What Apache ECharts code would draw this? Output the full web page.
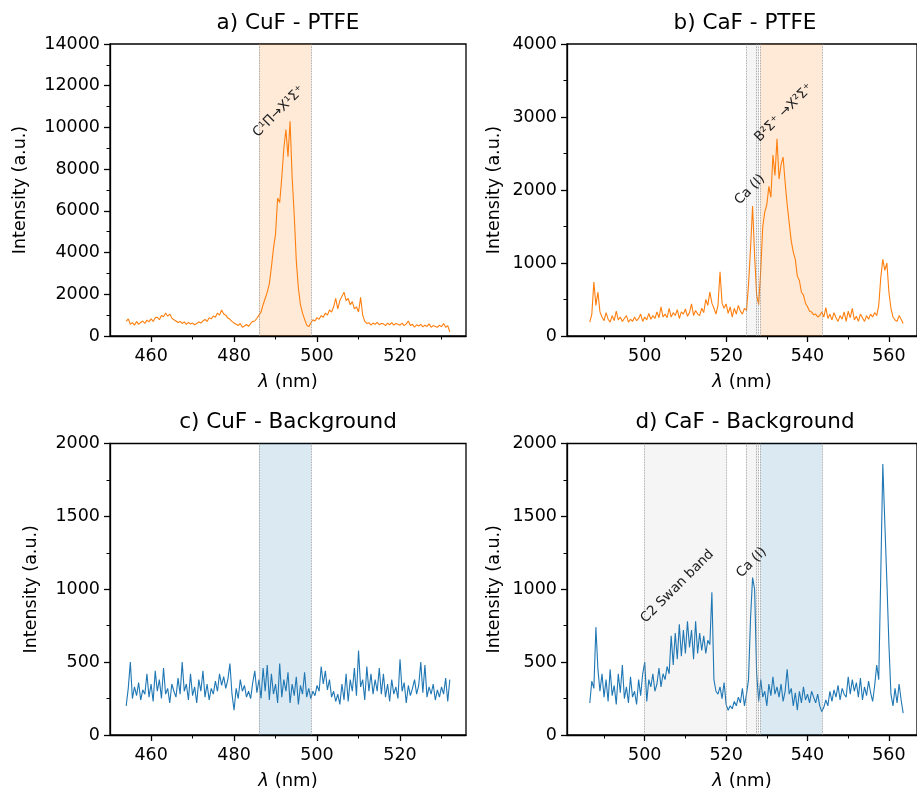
<!DOCTYPE html>
<html lang="en">
<head>
  <meta charset="UTF-8">
  <title>CuF / CaF spectra</title>
  <script src="https://cdn.jsdelivr.net/npm/echarts/dist/echarts.min.js"></script>
  <style>
    html, body { margin: 0; padding: 0; background: #fff; }
    #chart { width: 917px; height: 791px; }
  </style>
</head>
<body>
  <div id="chart"></div>
  <script>
    // wavelength grid (nm): first sample and spacing
    var STEP = 0.5;
    var cufStart = 454;
    var cafStart = 486.5;

    // a) CuF - PTFE
    var cufPtfe = [
      700, 820, 560, 640, 520, 700, 560, 650, 720, 600,
      760, 680, 820, 700, 880, 900, 780, 980, 920, 1100,
      950, 1050, 860, 780, 720, 650, 700, 600, 680, 560,
      650, 580, 620, 540, 600, 680, 620, 720, 800, 700,
      880, 820, 960, 900, 1100, 1000, 1250, 1050, 1000, 860,
      800, 700, 620, 560, 500, 600, 420, 480, 550, 460,
      600, 700, 720, 850, 1000, 1150, 1500, 1800, 2100, 2500,
      3300, 4200, 4900, 6600, 6400, 7600, 9000, 9900, 8600, 10300,
      7600, 5800, 3600, 2300, 1500, 1100, 800, 520, 450, 620,
      780, 720, 880, 800, 980, 900, 1100, 1000, 1250, 1150,
      1400, 1800, 1300, 1700, 1900, 2100, 1700, 1800, 1500, 1650,
      1300, 1400, 1150, 1850, 1000, 700, 600, 640, 520, 620,
      560, 650, 540, 600, 580, 500, 620, 540, 640, 520,
      600, 560, 520, 620, 500, 580, 720, 500, 560, 420,
      540, 480, 560, 440, 520, 460, 580, 420, 500, 460,
      420, 520, 440, 600, 420, 500, 200
    ];

    // b) CaF - PTFE
    var cafPtfe = [
      190, 300, 740, 420, 600, 330, 260, 210, 320, 230,
      190, 280, 210, 340, 220, 260, 200, 240, 280, 190,
      230, 200, 260, 210, 240, 300, 200, 260, 220, 310,
      230, 280, 240, 330, 250, 400, 260, 300, 250, 380,
      260, 320, 280, 360, 240, 330, 300, 370, 270, 320,
      440, 280, 350, 300, 280, 380, 320, 500, 420, 600,
      450, 380, 300, 420, 880, 450, 380, 440, 310, 400,
      260, 380, 300, 420, 340, 300, 380, 350, 700, 1200,
      1780, 1100, 560, 430, 900, 1500, 1700, 1800, 2050, 1900,
      2480, 2200, 2700, 2150, 2350, 2450, 2100, 1800, 1550, 1300,
      1150, 1050, 820, 760, 600, 560, 450, 400, 340, 330,
      290, 300, 260, 280, 330, 260, 390, 240, 300, 220,
      320, 250, 200, 280, 230, 330, 200, 340, 250, 380,
      220, 270, 200, 300, 250, 200, 280, 230, 300, 260,
      320, 280, 420, 800, 1050, 900, 1000, 600, 380, 260,
      220, 200, 280, 230, 170
    ];

    // c) CuF - Background
    var cufBg = [
      200, 320, 500, 250, 330, 270, 360, 240, 310, 280,
      420, 260, 350, 230, 440, 300, 380, 250, 460, 280,
      320, 220, 350, 300, 260, 390, 280, 500, 300, 350,
      240, 420, 270, 330, 220, 380, 300, 440, 260, 350,
      240, 320, 280, 370, 300, 420, 340, 400, 320, 380,
      490, 280, 170, 320, 250, 380, 300, 340, 260, 300,
      250, 360, 440, 290, 380, 250, 460, 300, 480, 240,
      420, 280, 350, 220, 490, 260, 380, 300, 430, 220,
      350, 270, 400, 210, 340, 280, 430, 260, 320, 250,
      300, 270, 340, 300, 470, 350, 440, 310, 380, 260,
      300, 230, 280, 210, 350, 240, 420, 230, 380, 300,
      460, 270, 580, 330, 380, 240, 470, 300, 420, 280,
      380, 300, 460, 280, 420, 260, 350, 230, 380, 280,
      330, 250, 520, 300, 360, 220, 340, 270, 320, 380,
      280, 340, 500, 290, 480, 260, 330, 280, 350, 240,
      310, 260, 330, 280, 390, 230, 380
    ];

    // d) CaF - Background
    var cafBg = [
      220, 370, 320, 740, 450, 300, 420, 260, 380, 230,
      450, 270, 340, 210, 420, 290, 480, 250, 330, 220,
      400, 260, 300, 210, 380, 270, 420, 500, 230, 380,
      330, 420, 300, 350, 460, 330, 420, 380, 470, 420,
      680, 480, 700, 520, 760, 540, 720, 560, 780, 600,
      720, 520, 780, 560, 700, 580, 680, 560, 650, 620,
      980, 380, 300, 280, 330, 250, 360, 210, 170, 200,
      180, 230, 200, 260, 220, 320, 200, 280, 380, 800,
      1080, 1000, 420, 230, 380, 260, 300, 200, 350, 270,
      400, 280, 330, 260, 350, 230, 300, 450, 280, 320,
      200, 290, 170, 300, 220, 330, 240, 280, 220, 300,
      260, 220, 280, 200, 160, 190, 240, 200, 300, 230,
      310, 260, 340, 240, 320, 280, 260, 400, 280, 380,
      300, 360, 260, 390, 240, 330, 270, 370, 290, 230,
      340, 480, 380, 1100, 1860, 1450, 1050, 620, 280, 200,
      320, 220, 350, 240, 150
    ];

    // shaded regions (nm) and their dotted edges
    var cufBand = [486.0, 498.6];
    var swanBand = [500.0, 520.0];
    var caBand = [525.0, 527.9];
    var cafBand = [528.4, 543.6];
    var cufEdges = [486.0, 498.6];
    var cafEdges = [525.0, 527.5, 527.9, 528.4, 543.6];
    var swanEdges = [500.0, 520.0];

    // tick labels
    var xTicksCuF = [460, 480, 500, 520];
    var xTicksCaF = [500, 520, 540, 560];
    var yTicksA = [0, 2000, 4000, 6000, 8000, 10000, 12000, 14000];
    var yTicksB = [0, 1000, 2000, 3000, 4000];
    var yTicksBg = [0, 500, 1000, 1500, 2000];

    var FONT = 'DejaVu Sans';
    var ORANGE = '#ff7f0e';
    var BLUE = '#1f77b4';
    var ORANGE_FILL = 'rgba(255,127,14,0.16)';
    var BLUE_FILL = 'rgba(31,119,180,0.16)';
    var GREY_FILL = 'rgba(128,128,128,0.08)';

    var chart = echarts.init(document.getElementById('chart'));

    var grids = [
      { left: 110, top: 44, width: 356, height: 292 },
      { left: 567, top: 44, width: 356, height: 292 },
      { left: 110, top: 443.5, width: 356, height: 292 },
      { left: 567, top: 443.5, width: 356, height: 292 }
    ];
    grids.forEach(function (g) {
      g.show = true;
      g.borderColor = '#000';
      g.borderWidth = 1.3;
      g.backgroundColor = 'transparent';
    });

    function plain(v) { return String(v); }

    function xAxis(gi, min, max, ticks) {
      return {
        type: 'value', gridIndex: gi, min: min, max: max,
        minInterval: 20, maxInterval: 20,
        name: '{i|λ} (nm)', nameLocation: 'middle', nameGap: 37,
        nameTextStyle: {
          fontSize: 18, color: '#000', fontFamily: FONT,
          rich: { i: { fontStyle: 'italic', fontSize: 18, color: '#000', fontFamily: FONT } }
        },
        axisLine: { show: true, onZero: false, lineStyle: { color: '#000', width: 1.3 } },
        axisTick: { show: true, length: 6, customValues: ticks, lineStyle: { color: '#000', width: 1.3 } },
        minorTick: { show: true, splitNumber: 2, length: 3.5, lineStyle: { color: '#000', width: 1 } },
        axisLabel: { customValues: ticks, formatter: plain, margin: 11, fontSize: 17.5, color: '#000', fontFamily: FONT },
        splitLine: { show: false }
      };
    }

    function yAxis(gi, max, interval, ticks, gap) {
      return {
        type: 'value', gridIndex: gi, min: 0, max: max, interval: interval,
        name: 'Intensity (a.u.)', nameLocation: 'middle', nameGap: gap,
        nameTextStyle: { fontSize: 17.5, color: '#000', fontFamily: FONT },
        axisLine: { show: true, lineStyle: { color: '#000', width: 1.3 } },
        axisTick: { show: true, length: 6, customValues: ticks, lineStyle: { color: '#000', width: 1.3 } },
        minorTick: { show: true, splitNumber: 2, length: 3.5, lineStyle: { color: '#000', width: 1 } },
        axisLabel: { customValues: ticks, formatter: plain, margin: 10, fontSize: 17.5, color: '#000', fontFamily: FONT },
        splitLine: { show: false }
      };
    }

    function bandSeries(gi, bands, edges) {
      return {
        type: 'line', xAxisIndex: gi, yAxisIndex: gi, data: [], z: 1, silent: true,
        markArea: {
          silent: true,
          data: bands.map(function (b) {
            return [{ xAxis: b[0], itemStyle: { color: b[2] } }, { xAxis: b[1] }];
          })
        },
        markLine: {
          silent: true, symbol: ['none', 'none'], label: { show: false },
          lineStyle: { color: '#8a8a8a', width: 0.8, type: 'dotted' },
          data: edges.map(function (x) { return { xAxis: x }; })
        }
      };
    }

    function note(x, y, text) {
      return {
        coord: [x, y], symbol: 'circle', symbolSize: 0,
        label: {
          show: true, position: 'inside', formatter: text, rotate: 45,
          align: 'left', verticalAlign: 'bottom',
          fontSize: 13.5, color: '#222', fontFamily: FONT
        }
      };
    }

    function spectrum(gi, start, vals, color, notes) {
      return {
        type: 'line', xAxisIndex: gi, yAxisIndex: gi, z: 3,
        symbol: 'none', showSymbol: false, silent: true,
        data: vals.map(function (v, i) { return [start + i * STEP, v]; }),
        lineStyle: { color: color, width: 1.1 },
        itemStyle: { color: color },
        markPoint: { silent: true, data: notes }
      };
    }

    function title(text, cx, top) {
      return {
        text: text, left: cx, top: top, textAlign: 'center', padding: 0,
        textStyle: { fontSize: 21.5, fontWeight: 'normal', color: '#000', fontFamily: FONT }
      };
    }

    var option = {
      animation: false,
      backgroundColor: '#fff',
      title: [
        title('a) CuF - PTFE', 288, 12),
        title('b) CaF - PTFE', 745, 12),
        title('c) CuF - Background', 288, 411),
        title('d) CaF - Background', 745, 411)
      ],
      grid: grids,
      xAxis: [
        xAxis(0, 450.1, 535.9, xTicksCuF),
        xAxis(1, 480.9, 566.9, xTicksCaF),
        xAxis(2, 450.1, 535.9, xTicksCuF),
        xAxis(3, 480.9, 566.9, xTicksCaF)
      ],
      yAxis: [
        yAxis(0, 14000, 2000, yTicksA, 81),
        yAxis(1, 4000, 1000, yTicksB, 64),
        yAxis(2, 2000, 500, yTicksBg, 70),
        yAxis(3, 2000, 500, yTicksBg, 64)
      ],
      series: [
        bandSeries(0, [[cufBand[0], cufBand[1], ORANGE_FILL]], cufEdges),
        bandSeries(1, [[caBand[0], caBand[1], GREY_FILL], [cafBand[0], cafBand[1], ORANGE_FILL]], cafEdges),
        bandSeries(2, [[cufBand[0], cufBand[1], BLUE_FILL]], cufEdges),
        bandSeries(3, [[swanBand[0], swanBand[1], GREY_FILL], [caBand[0], caBand[1], GREY_FILL],
          [cafBand[0], cafBand[1], BLUE_FILL]], swanEdges.concat(cafEdges)),
        spectrum(0, cufStart, cufPtfe, ORANGE, [note(486.3, 9400, 'C¹Π→X¹Σ⁺')]),
        spectrum(1, cafStart, cafPtfe, ORANGE, [note(523.9, 1760, 'Ca (I)'), note(528.8, 2620, 'B²Σ⁺ →X²Σ⁺')]),
        spectrum(2, cufStart, cufBg, BLUE, []),
        spectrum(3, cafStart, cafBg, BLUE, [note(500.8, 750, 'C2 Swan band'), note(524.3, 1060, 'Ca (I)')])
      ]
    };

    chart.setOption(option);
  </script>
</body>
</html>
